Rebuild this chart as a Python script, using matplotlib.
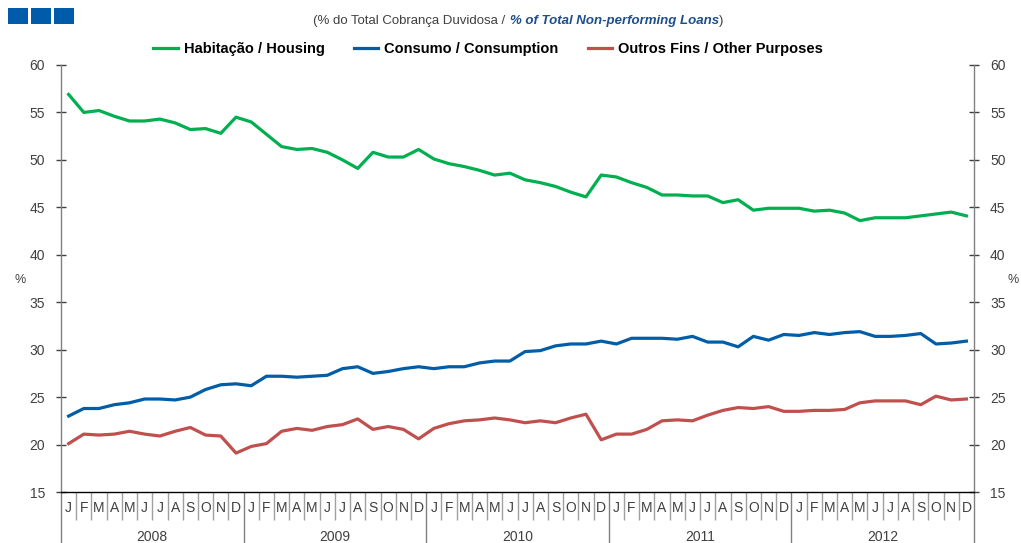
import numpy as np
import matplotlib
matplotlib.use('Agg')
from matplotlib import pyplot as plt
from matplotlib.patches import Rectangle

plt.rcParams['font.family'] = ['Liberation Sans', 'DejaVu Sans']

years = ['2008', '2009', '2010', '2011', '2012']
month_letters = ['J', 'F', 'M', 'A', 'M', 'J', 'J', 'A', 'S', 'O', 'N', 'D']

habitacao = [56.9, 55.0, 55.2, 54.6, 54.1, 54.1, 54.3, 53.9, 53.2, 53.3, 52.8, 54.5,
             54.0, 52.7, 51.4, 51.1, 51.2, 50.8, 50.0, 49.1, 50.8, 50.3, 50.3, 51.1,
             50.1, 49.6, 49.3, 48.9, 48.4, 48.6, 47.9, 47.6, 47.2, 46.6, 46.1, 48.4,
             48.2, 47.6, 47.1, 46.3, 46.3, 46.2, 46.2, 45.5, 45.8, 44.7, 44.9, 44.9,
             44.9, 44.6, 44.7, 44.4, 43.6, 43.9, 43.9, 43.9, 44.1, 44.3, 44.5, 44.1]
consumo = [23.0, 23.8, 23.8, 24.2, 24.4, 24.8, 24.8, 24.7, 25.0, 25.8, 26.3, 26.4,
           26.2, 27.2, 27.2, 27.1, 27.2, 27.3, 28.0, 28.2, 27.5, 27.7, 28.0, 28.2,
           28.0, 28.2, 28.2, 28.6, 28.8, 28.8, 29.8, 29.9, 30.4, 30.6, 30.6, 30.9,
           30.6, 31.2, 31.2, 31.2, 31.1, 31.4, 30.8, 30.8, 30.3, 31.4, 31.0, 31.6,
           31.5, 31.8, 31.6, 31.8, 31.9, 31.4, 31.4, 31.5, 31.7, 30.6, 30.7, 30.9]
outros = [20.1, 21.1, 21.0, 21.1, 21.4, 21.1, 20.9, 21.4, 21.8, 21.0, 20.9, 19.1,
          19.8, 20.1, 21.4, 21.7, 21.5, 21.9, 22.1, 22.7, 21.6, 21.9, 21.6, 20.6,
          21.7, 22.2, 22.5, 22.6, 22.8, 22.6, 22.3, 22.5, 22.3, 22.8, 23.2, 20.5,
          21.1, 21.1, 21.6, 22.5, 22.6, 22.5, 23.1, 23.6, 23.9, 23.8, 24.0, 23.5,
          23.5, 23.6, 23.6, 23.7, 24.4, 24.6, 24.6, 24.6, 24.2, 25.1, 24.7, 24.8]

series_labels = ['Habitação / Housing', 'Consumo / Consumption', 'Outros Fins / Other Purposes']
colors = ['#00B050', '#005DA8', '#C0504D']

fig = plt.figure(figsize=(10.21, 5.43), dpi=100)
ax = fig.add_axes([61 / 1021, 51 / 543, 913 / 1021, 427 / 543])

x = np.arange(len(habitacao))
lines = []
for vals, lab, c in zip([habitacao, consumo, outros], series_labels, colors):
    l, = ax.plot(x, vals, color=c, lw=2.3, label=lab, solid_joinstyle='round')
    lines.append(l)

ax.set_xlim(-0.5, len(x) - 0.5)
ax.set_ylim(15, 60)
ax.set_yticks(np.arange(15, 61, 5))

ax.spines['top'].set_visible(False)
for s in ['left', 'right', 'bottom']:
    ax.spines[s].set_color('#808080')
    ax.spines[s].set_linewidth(1.0)
ax.spines['bottom'].set_color('#000000')

ax.tick_params(axis='y', which='both', direction='inout', length=7, width=1,
               color='#404040', labelsize=10, labelcolor='#404040',
               left=True, right=True, labelleft=True, labelright=True, pad=8)

# month / year separators
ax.set_xticks(np.arange(-0.5, len(x), 12))
ax.set_xticks(np.arange(-0.5, len(x) + 0.5, 1), minor=True)
ax.tick_params(axis='x', which='major', direction='out', length=37, width=1,
               color='#808080', labelbottom=False)
ax.tick_params(axis='x', which='minor', direction='out', length=20, width=1,
               color='#a0a0a0', labelbottom=False)

trans = ax.get_xaxis_transform()
for i in range(len(x)):
    ax.text(i, -0.038, month_letters[i % 12], transform=trans, ha='center', va='center',
            fontsize=10, color='#404040')
for k, yr in enumerate(years):
    ax.text(k * 12 + 5.5, -0.105, yr, transform=trans, ha='center', va='center',
            fontsize=10, color='#404040')

fig.text(20 / 1021, 1 - 280 / 543, '%', ha='center', va='center', fontsize=9, color='#404040')
fig.text(1013 / 1021, 1 - 280 / 543, '%', ha='center', va='center', fontsize=9, color='#404040')

# legend
fig.legend(handles=lines, loc='center', bbox_to_anchor=(488 / 1021, 1 - 49 / 543), ncol=3,
           frameon=False, handlelength=1.7, handletextpad=0.4, columnspacing=2.0,
           prop={'weight': 'bold', 'size': 10.5})

# subtitle
t1 = fig.text(509 / 1021, 1 - 21 / 543, '(% do Total Cobrança Duvidosa / ', ha='right', va='center',
              fontsize=9.5, color='#404040')
t2 = fig.text(510 / 1021, 1 - 21 / 543, '% of Total Non-performing Loans', ha='left', va='center',
              fontsize=9.5, color='#1F4E8C', fontweight='bold', fontstyle='italic')
ax.annotate(')', xy=(1, 0), xycoords=t2, ha='left', va='bottom', fontsize=9.5, color='#404040',
            annotation_clip=False)

# three blue squares at top-left
for k in range(3):
    fig.patches.append(Rectangle(((8 + k * 23) / 1021, 1 - 24 / 543), 20 / 1021, 16 / 543,
                                 transform=fig.transFigure, facecolor='#005BAA', edgecolor='none'))

fig.savefig('out.png', dpi=100)
